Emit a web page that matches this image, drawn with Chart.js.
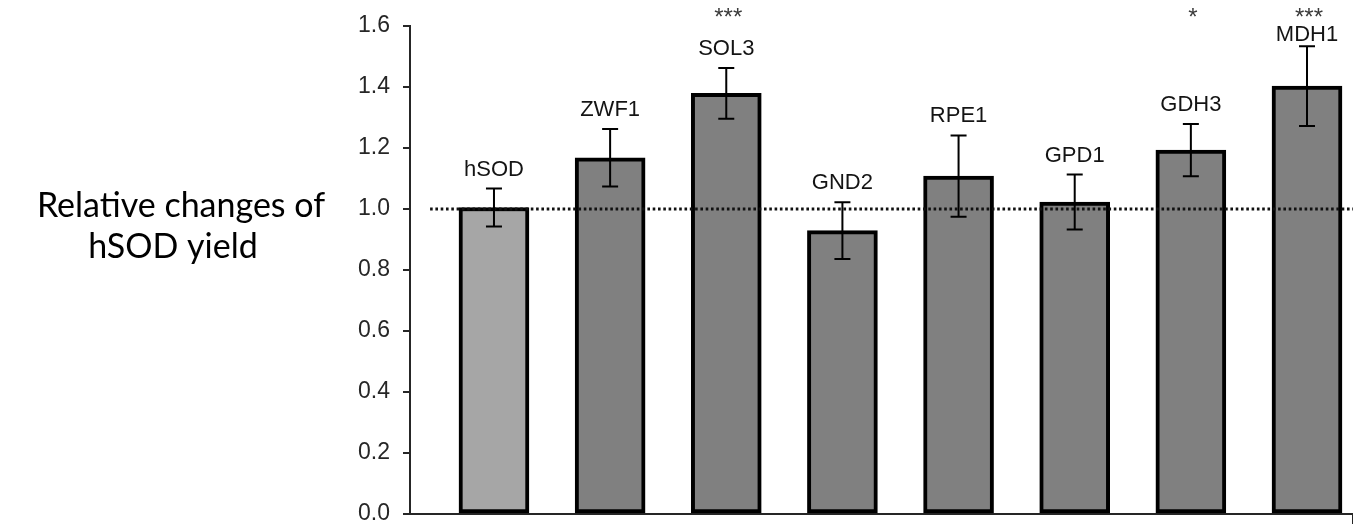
<!DOCTYPE html>
<html>
<head>
<meta charset="utf-8">
<script src="https://cdn.jsdelivr.net/npm/chart.js@4.4.1/dist/chart.umd.min.js"></script>
<style>
html,body{margin:0;padding:0;background:#fff;overflow:hidden}
#wrap{width:1353px;height:532px;position:relative}
</style>
</head>
<body>
<div id="wrap"><canvas id="c" width="1353" height="532"></canvas></div>
<script>
// ---- data ----
const categories = ['hSOD', 'ZWF1', 'SOL3', 'GND2', 'RPE1', 'GPD1', 'GDH3', 'MDH1'];
const values = [1.005, 1.168, 1.379, 0.929, 1.108, 1.023, 1.193, 1.403];
const errors = [0.062, 0.094, 0.083, 0.093, 0.133, 0.090, 0.086, 0.131];
const significance = ['', '', '***', '', '', '', '*', '***'];
const yTickValues = [0, 0.2, 0.4, 0.6, 0.8, 1.0, 1.2, 1.4, 1.6];
const referenceValue = 1.0;
const yTitleLines = ['Relative changes of', 'hSOD yield'];

// ---- layout / style ----
const X_MIN = -0.723, X_MAX = 7.396;
const AXIS_COLOR = '#262626';
const LABEL_FONT = '22px "Liberation Sans", Arial, sans-serif';
const STAR_FONT = '24px "Liberation Sans", Arial, sans-serif';
const TITLE_FONT = '34px Lato, "Open Sans", sans-serif';

const overlay = {
  id: 'overlay',
  afterDatasetsDraw(chart) {
    const { ctx, scales: { x, y } } = chart;
    ctx.save();
    // reference dotted line
    const yr = y.getPixelForValue(referenceValue);
    ctx.beginPath();
    ctx.setLineDash([2.6, 2.7]);
    ctx.lineWidth = 3;
    ctx.strokeStyle = '#111';
    ctx.moveTo(x.getPixelForValue(-0.55), yr);
    ctx.lineTo(x.right, yr);
    ctx.stroke();
    ctx.setLineDash([]);

    // error bars, labels, significance stars
    categories.forEach((cat, i) => {
      const cx = x.getPixelForValue(i);
      const top = y.getPixelForValue(values[i] + errors[i]);
      const bot = y.getPixelForValue(values[i] - errors[i]);
      ctx.beginPath();
      ctx.lineWidth = 2;
      ctx.strokeStyle = '#000';
      ctx.moveTo(cx, top); ctx.lineTo(cx, bot);
      ctx.moveTo(cx - 8, top); ctx.lineTo(cx + 8, top);
      ctx.moveTo(cx - 8, bot); ctx.lineTo(cx + 8, bot);
      ctx.stroke();

      ctx.fillStyle = '#141414';
      ctx.textAlign = 'center';
      ctx.textBaseline = 'alphabetic';
      ctx.font = LABEL_FONT;
      ctx.fillText(cat, cx, Math.max(top - 13, 41));

      if (significance[i]) {
        ctx.fillStyle = '#3a3a3a';
        ctx.font = STAR_FONT;
        ctx.fillText(significance[i], cx + 2, 25);
      }
    });
    ctx.restore();
  },
  afterDraw(chart) {
    const { ctx } = chart;
    ctx.save();
    ctx.fillStyle = '#000';
    ctx.font = TITLE_FONT;
    ctx.textAlign = 'center';
    ctx.textBaseline = 'alphabetic';
    ctx.fillText(yTitleLines[0], 181, 217);
    ctx.fillText(yTitleLines[1], 173, 258);
    ctx.restore();
  }
};

new Chart(document.getElementById('c'), {
  type: 'bar',
  data: {
    datasets: [{
      data: categories.map((c, i) => ({ x: i, y: values[i] })),
      backgroundColor: (ctx) => ctx.dataIndex === 0 ? '#a6a6a6' : '#808080',
      borderColor: '#000',
      borderWidth: 4,
      borderSkipped: false,
      barThickness: 70
    }]
  },
  options: {
    responsive: false,
    animation: false,
    layout: { padding: { top: 26, left: 0, right: 0, bottom: 0 } },
    plugins: { legend: { display: false }, tooltip: { enabled: false } },
    scales: {
      x: {
        type: 'linear',
        min: X_MIN,
        max: X_MAX,
        offset: false,
        ticks: { display: false },
        grid: { display: true, drawOnChartArea: false, drawTicks: true, tickLength: 10, color: AXIS_COLOR, lineWidth: 2 },
        border: { display: true, color: AXIS_COLOR, width: 2 },
        afterBuildTicks: (s) => { s.ticks = [{ value: s.min }]; },
        afterFit: (s) => { s.height = 18; s.paddingLeft = 0; s.paddingRight = 0; }
      },
      y: {
        min: 0,
        max: 1.6,
        afterBuildTicks: (s) => { s.ticks = yTickValues.map(v => ({ value: v })); },
        ticks: {
          callback: (v) => Number(v).toFixed(1),
          font: { family: '"Liberation Sans", Arial, sans-serif', size: 23 },
          color: AXIS_COLOR,
          padding: 13
        },
        grid: { drawOnChartArea: false, drawTicks: true, tickLength: 7, color: AXIS_COLOR, lineWidth: 2 },
        border: { display: true, color: AXIS_COLOR, width: 2 },
        afterFit: (s) => { s.width = 410; s.paddingTop = 0; s.paddingBottom = 0; }
      }
    }
  },
  plugins: [overlay]
});
</script>
</body>
</html>
